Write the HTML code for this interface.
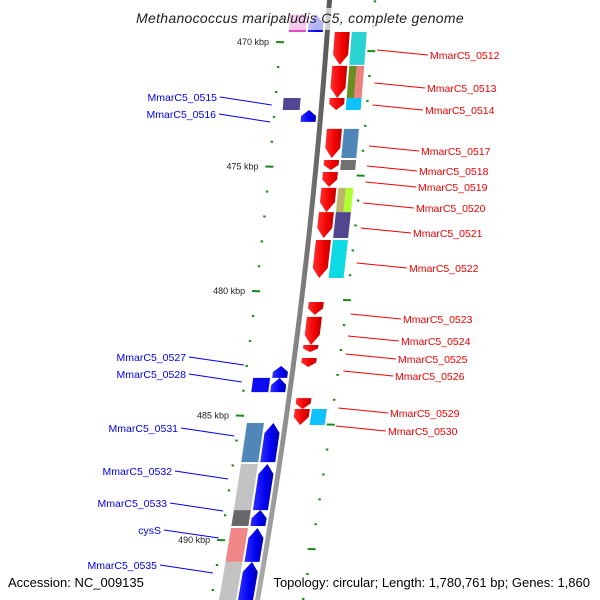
<!DOCTYPE html>
<html><head><meta charset="utf-8">
<style>
html,body{margin:0;padding:0;background:#fff;}
svg{display:block;font-family:"Liberation Sans",sans-serif;}
</style></head>
<body>
<svg id="chart" width="600" height="600" viewBox="0 0 600 600" xmlns="http://www.w3.org/2000/svg">
<defs>
<linearGradient id="gRed" x1="0" x2="1" y1="0" y2="0"><stop offset="0" stop-color="#ff3030"/><stop offset="0.6" stop-color="#f00000"/><stop offset="1" stop-color="#c00000"/></linearGradient>
<linearGradient id="gBlue" x1="0" x2="1" y1="0" y2="0"><stop offset="0" stop-color="#3030ff"/><stop offset="0.6" stop-color="#0000f0"/><stop offset="1" stop-color="#0000b0"/></linearGradient>
<linearGradient id="gBack" x1="0" x2="1"><stop offset="0" stop-color="#b0b0b0"/><stop offset="0.5" stop-color="#888"/><stop offset="1" stop-color="#555"/></linearGradient>
</defs>
<g id="ticks"></g>
<g id="cogs"></g>
<g id="genes"></g>
<g id="labels"></g>
<rect x="120" y="8" width="360" height="22" fill="#fff" opacity="0.7"/>
<text x="300" y="23" text-anchor="middle" font-size="14" font-style="italic" fill="#222" letter-spacing="0.3">Methanococcus maripaludis C5, complete genome</text>
<text x="8" y="587" font-size="13" fill="#000">Accession: NC_009135</text>
<text x="590" y="587" text-anchor="end" font-size="13" fill="#000">Topology: circular; Length: 1,780,761 bp; Genes: 1,860</text>
</svg>
<script>
// ---- data ----
const geneNames = ["MmarC5_0511","MmarC5_0512","MmarC5_0513","MmarC5_0514","MmarC5_0515","MmarC5_0516","MmarC5_0517","MmarC5_0518","MmarC5_0519","MmarC5_0520","MmarC5_0521","MmarC5_0522","MmarC5_0523","MmarC5_0524","MmarC5_0525","MmarC5_0526","MmarC5_0527","MmarC5_0528","MmarC5_0529","MmarC5_0530","MmarC5_0531","MmarC5_0532","MmarC5_0533","cysS","MmarC5_0535"];
const geneStart = [468.9,469.60,470.96,472.25,472.25,472.73,473.49,474.74,475.22,475.86,476.83,477.95,480.44,481.04,482.17,482.69,483.01,483.49,484.30,484.74,485.30,486.95,488.80,489.52,490.88];
const geneEnd   = [469.6,470.92,472.25,472.73,472.73,473.21,474.66,475.14,475.82,476.83,477.87,479.48,480.96,482.17,482.45,483.05,483.49,484.06,484.74,485.38,486.87,488.80,489.44,490.88,492.50];
const geneStrand= [1,-1,-1,-1,0,1,-1,-1,-1,-1,-1,-1,-1,-1,-1,-1,1,1,-1,-1,1,1,1,1,1];
const cogColorA = ["#e040c0","#20d0d0","#6b8e23","#00bfff","#483d8b",null,"#4682b4","#696969",null,"#bdb76b","#483d8b","#00d8e0",null,null,null,null,null,"#0000ee",null,"#00bfff","#4682b4","#c0c0c0","#606060","#f08080","#c0c0c0"];
const cogColorB = [null,null,"#f08080",null,null,null,null,null,null,"#adff2f",null,null,null,null,null,null,null,null,null,null,null,null,null,null,null];
const labeled   = [false,true,true,true,true,true,true,true,true,true,true,true,true,true,true,true,true,true,true,true,true,true,true,true,true];
const tickKbp = [466,467,468,469,470,471,472,473,474,475,476,477,478,479,480,481,482,483,484,485,486,487,488,489,490,491,492];
const majorTickLabels = ["470 kbp","475 kbp","480 kbp","485 kbp","490 kbp"];
const majorTickKbp = [470,475,480,485,490];
// label layout (text placement, not data)
const labelPos = {
 "MmarC5_0512":[430,59],"MmarC5_0513":[427,92],"MmarC5_0514":[425,114],"MmarC5_0517":[421,155],"MmarC5_0518":[419,175],
 "MmarC5_0519":[418,191],"MmarC5_0520":[416,212],"MmarC5_0521":[413,237],"MmarC5_0522":[409,272],"MmarC5_0523":[403,323],
 "MmarC5_0524":[401,345],"MmarC5_0525":[398,363],"MmarC5_0526":[395,380],"MmarC5_0529":[390,417],"MmarC5_0530":[388,435],
 "MmarC5_0515":[217,101],"MmarC5_0516":[216,118],"MmarC5_0527":[186,361],"MmarC5_0528":[186,378],"MmarC5_0531":[178,432],
 "MmarC5_0532":[172,475],"MmarC5_0533":[167,507],"cysS":[161,534],"MmarC5_0535":[157,569]};

// ---- axes ----
const yOf = k => 42 + (k - 470) * 24.9;
const xb = y => 329 - 0.0664 * y - 0.0000893 * y * y;
const NS = "http://www.w3.org/2000/svg";
function mk(tag, attrs, parent){ const e=document.createElementNS(NS,tag); for(const k in attrs) e.setAttribute(k,attrs[k]); parent.appendChild(e); return e; }
const svg = document.getElementById('chart');
const gT = document.getElementById('ticks'), gC = document.getElementById('cogs'), gG = document.getElementById('genes'), gL = document.getElementById('labels');

// backbone (curved)
let left=[], right=[];
for (let y=-10; y<=610; y+=20){ left.push(`${xb(y)-2},${y}`); right.unshift(`${xb(y)+3},${y}`); }
const bb = mk('polygon',{points:left.concat(right).join(' '),fill:'url(#gBack)'},svg);


svg.insertBefore(bb, gT);

// ticks
tickKbp.forEach(k=>{
  const major = majorTickKbp.includes(k);
  const y = yOf(k), yr = y + 9;
  const xl = xb(y) - 46, xr = xb(yr) + 46;
  const hl = major ? 4 : 1.2;
  const t1 = mk('line',{x1:xl-hl,y1:y,x2:xl+hl,y2:y+0.3,stroke:'#1a8a1a','stroke-width':2},gT);
  
  
  const t2 = mk('line',{x1:xr-hl,y1:yr,x2:xr+hl,y2:yr+0.3,stroke:'#1a8a1a','stroke-width':2},gT);
  
  
});
majorTickKbp.forEach((k,i)=>{
  const y = yOf(k);
  const t = mk('text',{x:xb(y)-57,y:y+3,'text-anchor':'end','font-size':9,fill:'#222'},gT);
  t.textContent = majorTickLabels[i];
  
  
});

function quad(y1,y2,o1,o2){ return `${xb(y1)+o1},${y1} ${xb(y1)+o2},${y1} ${xb(y2)+o2},${y2} ${xb(y2)+o1},${y2}`; }

geneNames.forEach((name,i)=>{
  const y1 = yOf(geneStart[i]), y2 = yOf(geneEnd[i]);
  const s = geneStrand[i];
  if (cogColorA[i]) {
    const o = s < 0 ? [25,40] : [-38,-21];
    if (cogColorB[i]) {
      const m = (o[0]+o[1])/2;
      const c1 = mk('polygon',{points:quad(y1,y2,o[0],m),fill:cogColorA[i]},gC);
      
      
      const c2 = mk('polygon',{points:quad(y1,y2,m,o[1]),fill:cogColorB[i]},gC);
      
      
    } else {
      const c = mk('polygon',{points:quad(y1,y2,o[0],o[1]),fill:cogColorA[i],opacity:0.95},gC);
      
      
    }
  }
  if (s === 0) return;
  const len = y2 - y1, head = Math.min(10, len*0.5);
  let pts;
  if (s < 0) {
    const a=8,b=23,m=15.5, yh=y2-head;
    pts = `${xb(y1)+a},${y1} ${xb(y1)+b},${y1} ${xb(yh)+b},${yh} ${xb(y2)+m},${y2} ${xb(yh)+a},${yh}`;
  } else {
    const a=-19,b=-4,m=-11.5, yh=y1+head;
    pts = `${xb(y2)+a},${y2} ${xb(y2)+b},${y2} ${xb(yh)+b},${yh} ${xb(y1)+m},${y1} ${xb(yh)+a},${yh}`;
  }
  const g = mk('polygon',{points:pts,fill:s<0?'url(#gRed)':'url(#gBlue)'},gG);
  
  
});

geneNames.forEach((name,i)=>{
  if (!labeled[i] || !labelPos[name]) return;
  const [lx,ly] = labelPos[name];
  const red = geneStrand[i] < 0;
  const col = red ? '#f00000' : '#0000ee';
  const ym = ly - 4;
  let l;
  if (red) l = mk('line',{x1:xb(ym)+52,y1:ym-5,x2:lx-2,y2:ym,stroke:col,'stroke-width':1},gL);
  else l = mk('line',{x1:lx+3,y1:ym,x2:xb(ym)-50,y2:ym+8,stroke:col,'stroke-width':1},gL);
  
  
  const t = mk('text',{x:lx,y:ly,'font-size':10.5,fill:col,'text-anchor':red?'start':'end'},gL);
  t.textContent = name;
  
  
});
</script>
</body></html>
